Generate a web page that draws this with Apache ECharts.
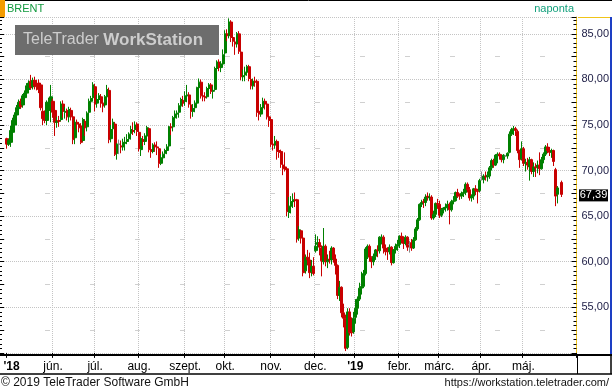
<!DOCTYPE html>
<html><head><meta charset="utf-8">
<script src="https://cdn.jsdelivr.net/npm/echarts@6/dist/echarts.min.js"></script>
<style>html,body{margin:0;padding:0;background:#fff}#c{width:612px;height:392px}</style>
</head><body><div id="c"></div>
<script>
// ---- categories padding (no data) ----
const leadDates = ['2018-04-26', '2018-04-27', '2018-04-30'];
const trailDates = ['2019-05-29', '2019-05-30', '2019-05-31', '2019-06-03', '2019-06-04', '2019-06-05', '2019-06-06'];

// ---- daily rows: [day, open, close, low, high] ----
const m2018_05 = [[1,73.5,72.9,72.4,73.6],[2,72.9,73.3,72.7,73.5],[3,73.1,74.4,72.6,74.9],[4,74.2,75.5,73.9,75.8],[7,75.0,76.1,74.7,76.4],[8,76.1,76.9,75.4,77.2],[9,76.8,77.5,76.3,77.8],[10,77.6,77.0,76.8,77.9],[11,77.2,78.2,76.9,78.4],[14,78.0,78.5,77.6,78.8],[15,78.5,79.3,78.2,79.6],[16,78.9,79.6,78.5,79.9],[17,79.8,79.1,78.9,80.5],[18,79.2,79.9,78.9,80.2],[21,79.9,79.3,78.9,80.3],[22,79.4,79.2,78.8,79.9],[23,79.6,78.9,78.5,80.0],[24,79.4,76.9,76.6,79.6],[25,76.5,75.7,75.0,76.9],[28,76.2,75.5,75.2,76.6],[29,75.5,77.5,75.0,77.7],[30,76.6,77.4,76.0,78.0],[31,77.0,78.1,75.3,79.4]];
const m2018_06 = [[1,77.6,76.4,75.8,77.9],[4,76.6,75.3,73.8,76.9],[5,75.3,75.4,74.7,75.9],[6,75.5,75.4,74.8,76.0],[7,75.6,77.3,75.4,77.6],[8,77.3,76.5,75.8,77.7],[11,76.4,76.5,75.7,77.0],[12,76.6,75.9,75.5,76.8],[13,75.9,76.7,75.3,77.0],[14,76.6,75.9,75.5,76.9],[15,75.9,73.4,72.9,76.2],[18,73.6,75.3,72.9,75.6],[19,75.3,75.1,74.5,75.6],[20,75.1,74.7,74.2,75.3],[21,74.9,73.1,72.9,75.2],[22,73.3,75.6,73.2,75.8],[25,75.4,74.7,73.8,75.6],[26,74.8,76.3,74.3,76.5],[27,76.4,77.6,75.8,77.9],[28,77.6,77.9,77.1,78.2],[29,78.0,79.4,77.8,79.7]];
const m2018_07 = [[2,79.2,77.3,76.5,79.5],[3,77.4,77.8,76.9,78.3],[4,77.8,78.2,77.5,78.5],[5,78.1,77.4,76.9,78.4],[6,77.4,77.1,76.4,77.8],[9,77.2,78.1,76.9,78.3],[10,78.1,78.9,77.8,79.4],[11,78.8,73.4,73.0,79.1],[12,73.5,74.5,73.1,75.0],[13,74.6,75.3,74.1,75.7],[16,75.1,71.8,71.6,75.3],[17,71.9,72.9,71.2,73.0],[18,72.9,72.9,71.8,73.4],[19,72.7,72.6,71.9,73.3],[20,72.6,73.1,72.2,73.5],[23,73.0,73.1,72.2,73.7],[24,73.2,73.4,72.9,74.0],[25,73.5,74.0,73.2,74.2],[26,74.1,74.5,73.4,74.9],[27,74.4,74.3,73.9,75.3],[30,74.5,75.0,74.1,75.4],[31,75.1,74.3,73.8,75.3]];
const m2018_08 = [[1,74.2,72.4,72.1,74.4],[2,72.3,73.5,71.6,73.7],[3,73.4,73.2,72.7,73.8],[6,73.2,73.8,72.8,74.1],[7,73.8,74.7,73.5,74.9],[8,74.6,72.3,72.0,74.7],[9,72.3,72.1,71.4,72.7],[10,72.1,72.8,71.9,73.0],[13,72.8,72.6,72.1,73.1],[14,72.6,72.5,71.7,73.2],[15,72.4,70.8,70.3,72.5],[16,70.8,71.4,70.6,71.8],[17,71.4,71.8,71.0,72.1],[20,71.9,72.2,71.4,72.4],[21,72.2,72.6,71.8,72.9],[22,72.7,74.8,72.4,74.9],[23,74.8,74.7,73.9,75.2],[24,74.8,75.8,74.3,76.0],[27,75.8,76.2,75.4,76.6],[28,76.2,76.3,75.7,76.6],[29,76.4,77.1,75.8,77.4],[30,77.1,77.8,76.9,78.0],[31,77.7,77.4,77.0,78.2]];
const m2018_09 = [[3,77.6,78.2,77.1,78.7],[4,78.2,78.3,77.5,79.4],[5,78.3,77.3,76.9,78.6],[6,77.2,76.5,75.7,77.5],[7,76.5,76.8,75.9,77.3],[10,76.9,77.4,76.4,77.7],[11,77.4,79.1,77.0,79.2],[12,79.1,79.7,78.9,80.1],[13,79.7,78.2,77.9,80.0],[14,78.2,78.1,77.6,78.5],[17,78.1,78.0,77.6,78.6],[18,78.1,79.0,77.9,79.2],[19,79.0,79.4,78.6,79.6],[20,79.4,78.7,78.4,79.6],[21,78.7,78.8,77.9,79.3],[24,78.9,81.2,78.8,81.4],[25,81.2,81.9,80.9,82.1],[26,81.9,81.3,80.9,82.2],[27,81.3,81.7,80.8,82.0],[28,81.7,82.7,81.5,83.3]];
const m2018_10 = [[1,82.9,85.0,82.7,85.4],[2,85.0,84.8,84.2,85.5],[3,84.8,86.3,84.5,86.7],[4,86.3,84.6,84.1,86.5],[5,84.6,84.2,83.6,85.0],[8,84.1,83.9,82.7,84.5],[9,83.9,85.0,83.5,85.2],[10,85.0,83.1,82.8,85.3],[11,83.0,80.3,79.9,83.2],[12,80.3,80.4,79.8,81.1],[15,80.5,80.8,79.8,81.4],[16,80.8,81.4,80.4,81.6],[17,81.4,80.1,79.8,81.6],[18,80.0,79.3,78.9,80.4],[19,79.3,79.8,78.9,80.1],[22,79.8,79.7,79.2,80.3],[23,79.8,76.4,75.9,80.0],[24,76.5,76.2,75.5,77.1],[25,76.2,76.9,75.9,77.3],[26,76.9,77.6,76.5,78.0],[29,77.6,77.3,76.7,77.9],[30,77.3,75.9,75.6,77.5],[31,75.9,75.5,74.8,76.5]];
const m2018_11 = [[1,75.6,72.9,72.6,75.8],[2,72.9,72.8,72.2,73.5],[5,72.8,73.2,72.4,73.8],[6,73.2,72.1,71.2,73.4],[7,72.2,72.0,71.4,73.0],[8,72.1,70.7,70.3,72.3],[9,70.6,70.2,69.5,70.9],[12,70.4,70.1,69.9,72.0],[13,70.2,65.5,65.0,70.3],[14,65.4,66.1,64.8,67.1],[15,66.1,66.6,65.3,67.2],[16,66.6,66.8,65.9,67.5],[19,66.8,66.7,66.0,67.6],[20,66.8,62.5,62.1,66.9],[21,62.6,63.5,62.3,63.9],[22,63.4,62.6,62.0,63.5],[23,62.6,58.8,58.4,62.7],[26,59.0,60.5,58.7,60.8],[27,60.5,60.2,59.6,61.3],[28,60.2,58.8,58.2,61.0],[29,58.9,59.5,58.4,60.2],[30,59.5,58.7,58.5,60.5]];
const m2018_12 = [[3,61.2,61.7,61.0,63.0],[4,61.9,62.1,61.2,62.8],[5,62.1,61.6,60.7,62.5],[6,61.5,60.1,58.4,61.8],[7,60.0,61.7,59.7,63.7],[10,61.7,60.0,59.5,61.9],[11,60.0,60.2,59.3,60.8],[12,60.3,60.2,59.8,61.2],[13,60.2,61.5,59.7,61.7],[14,61.5,60.3,59.9,61.6],[17,60.3,59.6,58.6,60.8],[18,59.6,56.3,55.9,59.7],[19,56.3,57.2,55.7,57.9],[20,57.2,54.4,53.9,57.3],[21,54.4,53.8,52.8,55.4],[24,53.8,50.5,50.2,54.2],[26,50.6,54.5,50.4,54.9],[27,54.5,52.2,51.9,54.9],[28,52.3,52.2,51.8,53.9],[31,52.3,53.8,52.1,54.5]];
const m2019_01 = [[2,53.9,54.9,53.2,55.9],[3,54.9,55.9,54.2,56.2],[4,55.9,57.1,55.7,57.7],[7,57.1,57.3,56.4,58.9],[8,57.3,58.7,57.1,59.1],[9,58.7,61.4,58.5,61.6],[10,61.4,61.7,60.3,61.9],[11,61.7,60.5,60.0,61.9],[14,60.5,60.0,59.3,60.6],[15,60.0,60.6,59.6,60.9],[16,60.6,61.3,60.2,61.4],[17,61.3,61.2,60.5,61.8],[18,61.2,62.7,60.9,62.8],[21,62.6,62.7,61.9,63.0],[22,62.7,61.5,60.9,62.9],[23,61.5,61.1,60.7,61.9],[24,61.2,61.1,60.2,61.6],[25,61.1,61.6,60.8,61.9],[28,61.6,59.9,59.6,61.7],[29,59.9,61.3,59.8,61.4],[30,61.3,61.7,60.9,62.0],[31,61.7,61.9,61.2,62.4]];
const m2019_02 = [[1,61.9,62.8,61.5,62.9],[4,62.8,62.5,62.0,63.2],[5,62.5,62.0,61.4,62.8],[6,62.0,62.7,61.8,62.9],[7,62.7,61.6,61.2,62.8],[8,61.9,61.9,61.0,62.3],[11,62.1,61.5,61.2,62.5],[12,61.5,62.4,61.4,62.7],[13,62.4,63.6,62.3,63.8],[14,63.6,64.6,63.4,64.8],[15,64.6,66.3,64.5,66.4],[18,66.3,66.5,66.0,66.8],[19,66.6,66.5,65.9,66.9],[20,66.5,67.1,66.1,67.4],[21,67.2,67.1,66.7,67.6],[22,67.0,67.1,66.7,67.5],[25,67.1,64.8,64.6,67.3],[26,64.8,65.2,64.6,65.6],[27,65.2,66.4,64.9,66.5],[28,66.4,66.3,65.8,66.9]];
const m2019_03 = [[1,66.3,65.1,64.8,66.7],[4,65.1,65.7,64.9,65.9],[5,65.7,65.9,65.3,66.0],[6,65.9,66.0,65.5,66.4],[7,66.0,66.3,65.6,66.7],[8,66.3,65.7,64.1,66.5],[11,65.7,66.6,65.5,66.8],[12,66.6,66.7,66.3,67.2],[13,66.7,67.6,66.6,67.7],[14,67.6,67.2,67.0,68.0],[15,67.3,67.2,66.8,67.5],[18,67.2,67.5,66.9,67.7],[19,67.5,67.6,67.1,68.0],[20,67.6,68.5,67.3,68.7],[21,68.5,67.9,67.6,68.7],[22,67.9,67.0,66.7,68.2],[25,67.0,67.2,66.6,67.4],[26,67.2,68.0,66.8,68.1],[27,68.0,67.8,67.3,68.4],[28,67.8,67.7,66.4,68.0],[29,67.8,68.9,67.6,69.1]];
const m2019_04 = [[1,69.2,69.2,68.9,69.9],[2,69.0,69.4,68.6,69.6],[3,69.4,69.3,68.9,69.9],[4,69.3,69.5,68.8,69.9],[5,69.4,70.3,69.1,70.5],[8,70.3,71.1,70.0,71.3],[9,71.1,70.6,70.3,71.3],[10,70.6,71.7,70.5,71.8],[11,71.7,71.8,70.8,72.0],[12,71.8,71.6,71.2,72.0],[15,71.6,71.2,70.9,71.8],[16,71.2,71.7,70.8,71.8],[17,71.6,71.6,71.5,71.7],[18,71.6,71.9,71.3,72.0],[22,72.0,74.0,71.9,74.3],[23,74.0,74.5,73.8,74.7],[24,74.5,74.6,73.9,74.9],[25,74.6,74.4,73.8,74.8],[26,74.3,72.2,71.9,74.5],[29,72.2,71.2,70.3,72.3],[30,71.3,72.4,71.1,73.2]];
const m2019_05 = [[1,72.4,70.8,70.5,72.6],[2,70.8,70.9,69.9,71.3],[3,70.9,70.6,70.1,71.4],[6,70.4,71.2,68.9,71.5],[7,71.2,69.9,69.6,71.3],[8,69.9,70.4,69.3,70.9],[9,70.4,70.3,69.3,70.8],[10,70.4,70.6,69.7,71.1],[13,70.6,70.2,69.5,72.0],[14,70.2,71.2,70.1,71.5],[15,71.2,71.8,70.8,72.0],[16,71.8,72.6,71.6,72.8],[17,72.6,72.2,71.9,73.0],[20,72.2,72.0,71.6,72.6],[21,72.0,72.2,71.4,72.4],[22,72.2,71.0,70.5,72.3],[23,70.1,67.2,66.1,70.3],[24,67.4,68.1,66.4,68.3],[27],[28,68.7,67.39,67.1,68.9]];

const monthRows = [['2018-05',m2018_05],['2018-06',m2018_06],['2018-07',m2018_07],['2018-08',m2018_08],['2018-09',m2018_09],['2018-10',m2018_10],['2018-11',m2018_11],['2018-12',m2018_12],['2019-01',m2019_01],['2019-02',m2019_02],['2019-03',m2019_03],['2019-04',m2019_04],['2019-05',m2019_05]];

// ---- x tick labels ----
const tickDates = ['2018-05-01','2018-06-01','2018-07-02','2018-08-01','2018-09-03','2018-10-01','2018-11-01','2018-12-03','2019-01-02','2019-02-01','2019-03-01','2019-04-01','2019-05-01'];
const tickLabels = ["'18",'jún.','júl.','aug.','szept.','okt.','nov.','dec.',"'19",'febr.','márc.','ápr.','máj.'];
const priceLabels = [55, 60, 65, 70, 75, 80, 85];
const lastPrice = 67.39;

// ---- build ----
const categories = leadDates.slice();
const ohlc = leadDates.map(() => '-');
monthRows.forEach(([ym, rows]) => rows.forEach(r => {
  categories.push(ym + '-' + String(r[0]).padStart(2, '0'));
  ohlc.push(r.length > 1 ? [r[1], r[2], r[3], r[4]] : '-');
}));
trailDates.forEach(d => { categories.push(d); ohlc.push('-'); });

const labelMap = {};
tickDates.forEach((d, i) => labelMap[d] = tickLabels[i]);
const isTick = (idx, val) => labelMap[val] !== undefined;
const isGrid = (idx, val) => labelMap[val] !== undefined && val !== tickDates[0];

const YMIN = 50, YMAX = 86.85;
const FONT = '"Liberation Sans", Arial, sans-serif';

const chart = echarts.init(document.getElementById('c'), null, {renderer: 'canvas'});
chart.setOption({
  animation: false,
  backgroundColor: '#ffffff',
  grid: {left: 0, right: 34, top: 17, bottom: 39.1, containLabel: false},
  xAxis: {
    type: 'category', data: categories, boundaryGap: true,
    axisLine: {show: false},
    axisTick: {show: true, interval: isTick, length: 5, lineStyle: {color: '#000'}},
    axisLabel: {
      interval: isTick, margin: 8, fontFamily: FONT, fontSize: 12, color: '#000',
      formatter: (v) => {
        const t = labelMap[v];
        if (t === "'18") return '{y0|' + t + '}';
        if (t && t[0] === "'") return '{y|' + t + '}';
        return t || '';
      },
      rich: {
        y: {fontWeight: 'bold', fontFamily: FONT, fontSize: 12, color: '#000'},
        y0: {fontWeight: 'bold', fontFamily: FONT, fontSize: 12, color: '#000', padding: [0, 0, 0, 9]}
      }
    },
    splitLine: {show: true, interval: isGrid, lineStyle: {color: '#c4c4c4', type: 'dotted', width: 1}}
  },
  yAxis: [
    { // right price axis
      type: 'value', position: 'right', min: YMIN, max: YMAX, interval: 2.5,
      axisLine: {show: true, lineStyle: {color: '#f0c419', width: 1}},
      axisTick: {show: true, inside: true, length: 5, lineStyle: {color: '#000'}},
      minorTick: {show: true, splitNumber: 5, length: 3, lineStyle: {color: '#000'}},
      axisLabel: {
        margin: 5, fontFamily: FONT, fontSize: 11, color: '#1c1c44',
        formatter: (v) => priceLabels.some(p => Math.abs(p - v) < 1e-6) ? v.toFixed(2).replace('.', ',') : ''
      },
      splitLine: {show: false}
    },
    { // grid lines
      type: 'value', position: 'left', min: YMIN, max: YMAX, interval: 5,
      axisLine: {show: false}, axisTick: {show: false}, axisLabel: {show: false},
      minorTick: {show: false, splitNumber: 2},
      splitLine: {show: true, lineStyle: {color: '#c4c4c4', type: 'dotted', width: 1}},
      minorSplitLine: {show: true, lineStyle: {color: '#d0d0d0', type: [5, 40], width: 1}}
    },
    { // left tick marks
      type: 'value', position: 'left', min: YMIN, max: YMAX, interval: 2.5,
      axisLine: {show: false},
      axisTick: {show: true, inside: true, length: 4, lineStyle: {color: '#000'}},
      minorTick: {show: true, splitNumber: 5, length: 2, lineStyle: {color: '#000'}},
      axisLabel: {show: false}, splitLine: {show: false}
    }
  ],
  series: [{
    type: 'candlestick', name: 'BRENT', data: ohlc, yAxisIndex: 0, barWidth: 2.6,
    itemStyle: {color: '#008000', color0: '#c80000', borderColor: '#008000', borderColor0: '#c80000', borderColorDoji: '#8a8a8a', borderWidth: 1}
  }],
  graphic: []
});

const py = chart.convertToPixel({yAxisIndex: 0}, lastPrice);
chart.setOption({graphic: [
  {type: 'line', z: 20, shape: {x1: 5, y1: 0.5, x2: 612, y2: 0.5}, style: {stroke: '#000', lineWidth: 1}},
  {type: 'rect', z: 20, shape: {x: 0, y: 0, width: 5, height: 17}, style: {fill: '#f49c00'}},
  {type: 'text', z: 20, x: 7, y: 9, style: {text: 'BRENT', fill: '#129a3e', font: '11px ' + FONT, textVerticalAlign: 'middle'}},
  {type: 'text', z: 20, x: 574, y: 9, style: {text: 'naponta', fill: '#12a07c', font: '11px ' + FONT, textAlign: 'right', textVerticalAlign: 'middle'}},
  // right panel borders
  {type: 'line', z: 20, shape: {x1: 578, y1: 17.5, x2: 612, y2: 17.5}, style: {stroke: '#f0c419', lineWidth: 1}},
  {type: 'line', z: 20, shape: {x1: 611, y1: 17, x2: 611, y2: 354}, style: {stroke: '#1d3fc4', lineWidth: 2}},
  // x axis strip
  {type: 'line', z: 20, shape: {x1: 0, y1: 355, x2: 612, y2: 355}, style: {stroke: '#000', lineWidth: 2}},
  {type: 'line', z: 20, shape: {x1: 0, y1: 374, x2: 612, y2: 374}, style: {stroke: '#000', lineWidth: 1.5}},
  {type: 'line', z: 20, shape: {x1: 577.5, y1: 355, x2: 577.5, y2: 374}, style: {stroke: '#000', lineWidth: 1}},
  {type: 'line', z: 20, shape: {x1: 611, y1: 355, x2: 611, y2: 374}, style: {stroke: '#000', lineWidth: 1.5}},
  // footer
  {type: 'text', z: 20, x: 1, y: 383, style: {text: '© 2019 TeleTrader Software GmbH', fill: '#111', font: '12px ' + FONT, textVerticalAlign: 'middle'}},
  {type: 'text', z: 20, x: 609, y: 383, style: {text: 'https://workstation.teletrader.com/', fill: '#111', font: '11px ' + FONT, textAlign: 'right', textVerticalAlign: 'middle'}},
  // watermark
  {type: 'rect', z: 1, shape: {x: 15, y: 25, width: 204, height: 30}, style: {fill: '#6d6d6d'}},
  {type: 'text', z: 2, x: 23, y: 40, style: {
    text: '{a|TeleTrader }{b|WorkStation}', textVerticalAlign: 'middle',
    rich: {a: {fill: '#cdcdcd', font: '16px ' + FONT}, b: {fill: '#cdcdcd', font: 'bold 17px ' + FONT}}
  }},
  // last price tag
  {type: 'rect', z: 20, shape: {x: 579, y: py - 5, width: 29, height: 12}, style: {fill: '#000'}},
  {type: 'text', z: 21, x: 593.5, y: py + 1, style: {text: lastPrice.toFixed(2).replace('.', ','), fill: '#fff', font: '11px ' + FONT, textAlign: 'center', textVerticalAlign: 'middle'}}
]});
</script></body></html>
